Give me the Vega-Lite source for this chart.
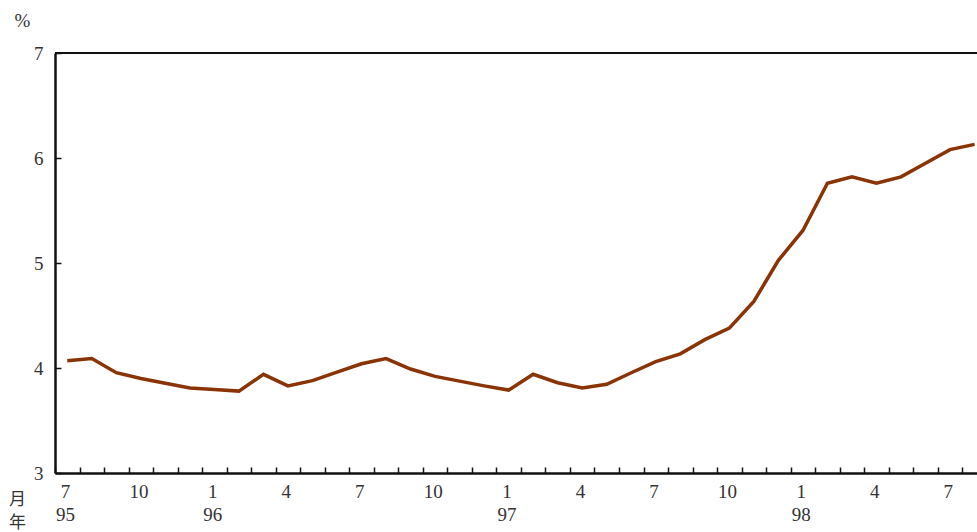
{
  "$schema": "https://vega.github.io/schema/vega-lite/v6.json",
  "autosize": "none",
  "width": 922,
  "height": 420,
  "padding": {"left": 55, "top": 53, "right": 0, "bottom": 59},
  "background": "white",
  "config": {
    "view": {"stroke": null},
    "font": "Liberation Serif, DejaVu Serif, serif",
    "axis": {"grid": false, "labelFont": "Liberation Serif, DejaVu Serif, serif", "titleFont": "Liberation Serif, Noto Sans CJK TC, serif", "labelColor": "#333", "titleColor": "#333", "titleFontWeight": "normal"}
  },
  "data": {
    "values": [
      {"m": 0, "rate": 4.07}, {"m": 1, "rate": 4.09}, {"m": 2, "rate": 3.955}, {"m": 3, "rate": 3.90},
      {"m": 4, "rate": 3.855}, {"m": 5, "rate": 3.81}, {"m": 6, "rate": 3.795}, {"m": 7, "rate": 3.78},
      {"m": 8, "rate": 3.94}, {"m": 9, "rate": 3.83}, {"m": 10, "rate": 3.88}, {"m": 11, "rate": 3.96},
      {"m": 12, "rate": 4.04}, {"m": 13, "rate": 4.09}, {"m": 14, "rate": 3.99}, {"m": 15, "rate": 3.92},
      {"m": 16, "rate": 3.875}, {"m": 17, "rate": 3.83}, {"m": 18, "rate": 3.79}, {"m": 19, "rate": 3.94},
      {"m": 20, "rate": 3.86}, {"m": 21, "rate": 3.81}, {"m": 22, "rate": 3.845}, {"m": 23, "rate": 3.955},
      {"m": 24, "rate": 4.06}, {"m": 25, "rate": 4.135}, {"m": 26, "rate": 4.27}, {"m": 27, "rate": 4.38},
      {"m": 28, "rate": 4.635}, {"m": 29, "rate": 5.025}, {"m": 30, "rate": 5.31}, {"m": 31, "rate": 5.76},
      {"m": 32, "rate": 5.82}, {"m": 33, "rate": 5.76}, {"m": 34, "rate": 5.82}, {"m": 35, "rate": 5.95},
      {"m": 36, "rate": 6.08}, {"m": 37, "rate": 6.13}
    ]
  },
  "layer": [
    {
      "mark": {"type": "rule", "color": "#111", "strokeWidth": 2},
      "encoding": {"y": {"datum": 7}}
    },
    {
      "mark": {"type": "line", "color": "#8a3305", "strokeWidth": 3.5, "clip": true},
      "encoding": {
        "x": {
          "field": "m", "type": "quantitative",
          "scale": {"domain": [-0.5, 37.1], "nice": false, "zero": false},
          "axis": {
            "values": [-0.5, 0.5, 1.5, 2.5, 3.5, 4.5, 5.5, 6.5, 7.5, 8.5, 9.5, 10.5, 11.5, 12.5, 13.5, 14.5, 15.5, 16.5, 17.5, 18.5, 19.5, 20.5, 21.5, 22.5, 23.5, 24.5, 25.5, 26.5, 27.5, 28.5, 29.5, 30.5, 31.5, 32.5, 33.5, 34.5, 35.5, 36.5],
            "labelExpr": "(datum.value + 0.5) % 3 != 0 ? '' : ((datum.value + 0.5) == 0 ? ['7', '95'] : ((datum.value + 6.5) % 12 == 0 ? ['1', '' + (95 + floor((datum.value + 6.5) / 12))] : '' + ((datum.value + 6.5) % 12 + 1)))",
            "labelOffset": 10,
            "labelFlush": false,
            "labelOverlap": false,
            "labelBound": false,
            "labelFontSize": 19,
            "labelLineHeight": 23,
            "labelPadding": 15,
            "tickSize": -6,
            "tickColor": "#111",
            "tickWidth": 1.5,
            "domainColor": "#111",
            "domainWidth": 2.5,
            "title": ["月", "年"],
            "titleFontSize": 17,
            "titleLineHeight": 23,
            "titleAnchor": "start",
            "titleAlign": "center",
            "titleBaseline": "top",
            "titleX": -38,
            "titleY": 18
          }
        },
        "y": {
          "field": "rate", "type": "quantitative",
          "scale": {"domain": [3, 7], "nice": false, "zero": false},
          "axis": {
            "values": [3, 4, 5, 6, 7],
            "format": "d",
            "labelFontSize": 19,
            "labelPadding": 18,
            "tickSize": -6,
            "tickColor": "#111",
            "tickWidth": 1.5,
            "domainColor": "#111",
            "domainWidth": 2.5,
            "title": "%",
            "titleFontSize": 19,
            "titleAngle": 0,
            "titleAlign": "center",
            "titleBaseline": "alphabetic",
            "titleX": -33,
            "titleY": -27
          }
        }
      }
    }
  ]
}
